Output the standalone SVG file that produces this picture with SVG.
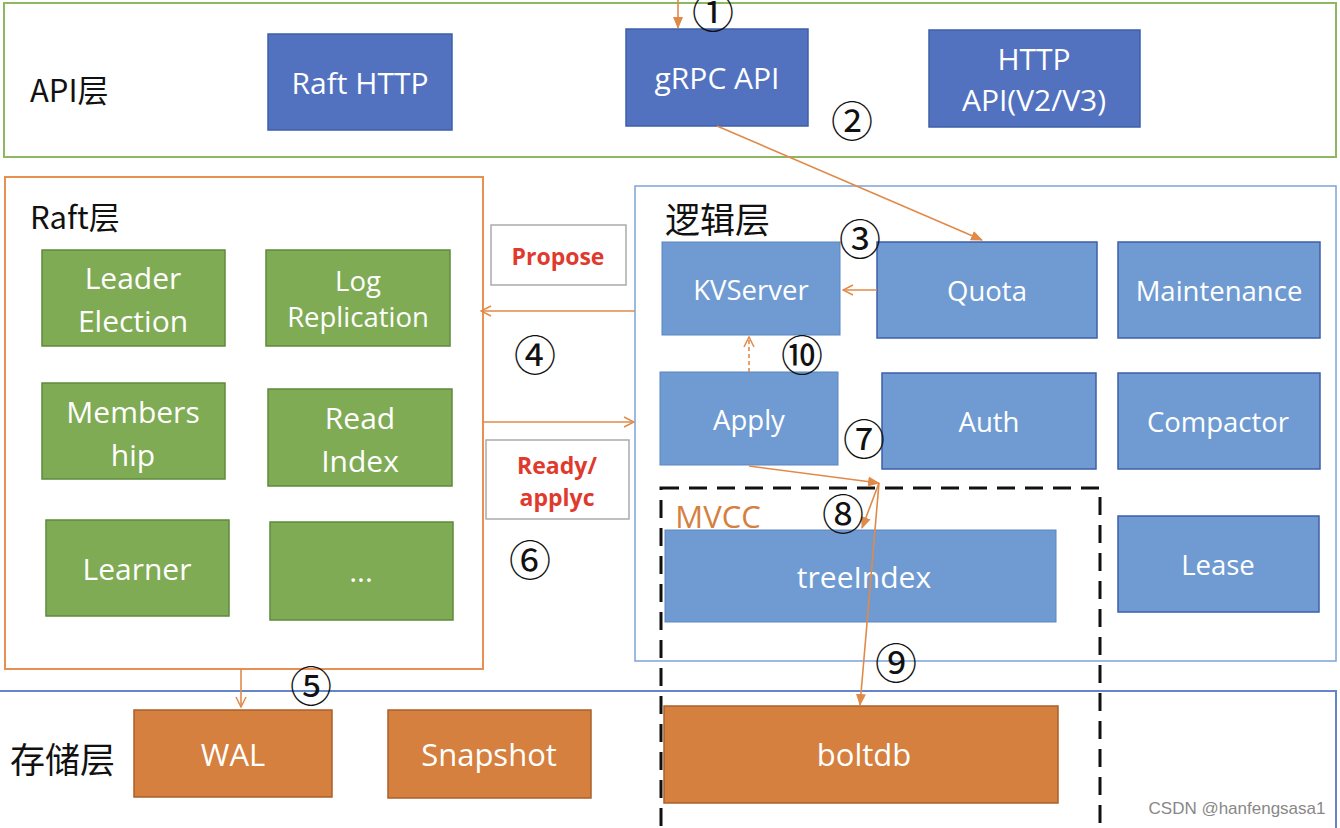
<svg xmlns="http://www.w3.org/2000/svg" width="1340" height="828" viewBox="0 0 1340 828">
<style>
text{font-family:"Open Sans","Noto Sans","Noto Sans CJK SC",sans-serif;text-anchor:middle;dominant-baseline:central}
.dk{fill:#5272C0;stroke:#3E5FA8;stroke-width:1.5}
.lb{fill:#6F9BD2;stroke:#5A86C0;stroke-width:1}
.gr{fill:#80AB55;stroke:#5F8A3C;stroke-width:1.5}
.or{fill:#D5803F;stroke:#A9602B;stroke-width:1.5}
.wt{fill:#fff;font-size:30px}
.sm{font-size:27.5px}
.st{font-size:31px}
.ttl{fill:#111;font-size:31px;text-anchor:start;font-family:"Noto Sans CJK SC","Open Sans",sans-serif}
.num{fill:#111;font-size:42px;font-family:"Noto Sans CJK SC",sans-serif}
.red{fill:#E03A2E;font-size:23px;font-weight:bold}
.ln{stroke:#E08A4A;stroke-width:1.6;fill:none}
</style>
<defs>
<marker id="op" viewBox="0 0 12 12" refX="11" refY="6" markerWidth="12" markerHeight="12" markerUnits="userSpaceOnUse" orient="auto"><path d="M1,1 L11,6 L1,11" fill="none" stroke="#E08A4A" stroke-width="1.5"/></marker>
<marker id="fl" viewBox="0 0 12 12" refX="11" refY="6" markerWidth="12" markerHeight="12" markerUnits="userSpaceOnUse" orient="auto"><path d="M0,1 L12,6 L0,11 Z" fill="#E08A4A"/></marker>
</defs>
<rect width="1340" height="828" fill="#fff"/>
<!-- layers -->
<g id="api-layer">
<rect x="4" y="3" width="1332" height="154" fill="none" stroke="#8CB862" stroke-width="2"/>
<text class="ttl" x="30" y="88">API层</text>
</g>
<g id="raft-layer">
<rect x="5" y="177" width="478" height="492" fill="none" stroke="#E89050" stroke-width="2"/>
<text class="ttl" x="30" y="215">Raft层</text>
</g>
<g id="logic-layer">
<rect x="635" y="186" width="701" height="475" fill="none" stroke="#7BA3D8" stroke-width="1.5"/>
<text class="ttl" x="665" y="217" style="font-size:35px">逻辑层</text>
</g>
<g id="storage-layer">
<rect x="-5" y="691" width="1341" height="150" fill="none" stroke="#6685C8" stroke-width="2"/>
<text class="ttl" x="10" y="757" style="font-size:35px">存储层</text>
</g>
<g id="mvcc">
<rect x="661" y="488" width="439" height="360" fill="none" stroke="#111" stroke-width="3" stroke-dasharray="18,10"/>
<text x="718" y="516" style="fill:#D5803F;font-size:31px">MVCC</text>
</g>
<!-- API nodes -->
<g id="raft-http"><rect class="dk" x="268" y="34" width="184" height="96"/><text class="wt" x="360" y="82">Raft HTTP</text></g>
<g id="grpc-api"><rect class="dk" x="626" y="29" width="182" height="97"/><text class="wt" x="717" y="77">gRPC API</text></g>
<g id="http-api"><rect class="dk" x="929" y="30" width="211" height="97"/><text class="wt" x="1034" y="58">HTTP</text><text class="wt" x="1034" y="99">API(V2/V3)</text></g>
<!-- Raft nodes -->
<g id="leader-election"><rect class="gr" x="42" y="250" width="183" height="96"/><text class="wt" x="133" y="277">Leader</text><text class="wt" x="133" y="320">Election</text></g>
<g id="log-replication"><rect class="gr" x="266" y="250" width="184" height="96"/><text class="wt sm" x="358" y="280">Log</text><text class="wt sm" x="358" y="316">Replication</text></g>
<g id="membership"><rect class="gr" x="42" y="383" width="183" height="96"/><text class="wt" x="133" y="411">Members</text><text class="wt" x="133" y="454">hip</text></g>
<g id="read-index"><rect class="gr" x="268" y="389" width="184" height="97"/><text class="wt" x="360" y="417">Read</text><text class="wt" x="360" y="460">Index</text></g>
<g id="learner"><rect class="gr" x="46" y="520" width="183" height="96"/><text class="wt" x="137" y="568">Learner</text></g>
<g id="more"><rect class="gr" x="270" y="522" width="183" height="98"/><text class="wt" x="361" y="570">...</text></g>
<!-- labels boxes -->
<g id="propose"><rect x="491" y="225" width="135" height="60" fill="#fff" stroke="#aaa" stroke-width="1.5"/><text class="red" x="558" y="256">Propose</text></g>
<g id="ready-applyc"><rect x="486" y="440" width="143" height="79" fill="#fff" stroke="#aaa" stroke-width="1.5"/><text class="red" x="557" y="465">Ready/</text><text class="red" x="557" y="497">applyc</text></g>
<!-- Logic nodes -->
<g id="kvserver"><rect class="lb" x="662" y="242" width="178" height="93"/><text class="wt sm" x="751" y="289">KVServer</text></g>
<g id="quota"><rect class="dk" style="fill:#6F9BD2" x="877" y="242" width="220" height="96"/><text class="wt sm" x="987" y="290">Quota</text></g>
<g id="maintenance"><rect class="dk" style="fill:#6F9BD2" x="1118" y="242" width="202" height="96"/><text class="wt sm" x="1219" y="290">Maintenance</text></g>
<g id="apply"><rect class="lb" x="660" y="372" width="178" height="93"/><text class="wt sm" x="749" y="419">Apply</text></g>
<g id="auth"><rect class="dk" style="fill:#6F9BD2" x="882" y="373" width="214" height="96"/><text class="wt sm" x="989" y="421">Auth</text></g>
<g id="compactor"><rect class="dk" style="fill:#6F9BD2" x="1118" y="373" width="202" height="96"/><text class="wt sm" x="1218" y="421">Compactor</text></g>
<g id="lease"><rect class="dk" style="fill:#6F9BD2" x="1118" y="516" width="201" height="96"/><text class="wt sm" x="1218" y="564">Lease</text></g>
<g id="treeindex"><rect class="lb" x="665" y="530" width="391" height="92"/><text class="wt" x="864" y="576">treeIndex</text></g>
<!-- Storage nodes -->
<g id="wal"><rect class="or" x="134" y="710" width="198" height="87"/><text class="wt st" x="233" y="754">WAL</text></g>
<g id="snapshot"><rect class="or" x="388" y="710" width="203" height="88"/><text class="wt st" x="489" y="754">Snapshot</text></g>
<g id="boltdb"><rect class="or" x="664" y="706" width="394" height="97"/><text class="wt st" x="864" y="754">boltdb</text></g>
<!-- connectors -->
<g id="connectors">
<line class="ln" x1="678" y1="0" x2="678" y2="28" marker-end="url(#fl)"/>
<line class="ln" x1="717" y1="126" x2="982" y2="240" marker-end="url(#fl)"/>
<line class="ln" x1="877" y1="290" x2="843" y2="290" marker-end="url(#op)"/>
<line class="ln" x1="635" y1="311" x2="481" y2="311" marker-end="url(#op)"/>
<line class="ln" x1="483" y1="422" x2="634" y2="422" marker-end="url(#op)"/>
<line class="ln" x1="749" y1="372" x2="749" y2="337" stroke-dasharray="4,3" marker-end="url(#op)"/>
<line class="ln" x1="749" y1="466" x2="879" y2="483" marker-end="url(#fl)"/>
<line class="ln" x1="879" y1="483" x2="862" y2="528" marker-end="url(#fl)"/>
<line class="ln" x1="879" y1="483" x2="860" y2="705" marker-end="url(#fl)"/>
<line class="ln" x1="241" y1="669" x2="241" y2="707" marker-end="url(#op)"/>
</g>
<!-- step numbers -->
<g id="steps">
<text class="num" x="713" y="9">①</text>
<text class="num" x="852" y="118">②</text>
<text class="num" x="860" y="236">③</text>
<text class="num" x="535" y="352">④</text>
<text class="num" x="311" y="683">⑤</text>
<text class="num" x="530" y="557">⑥</text>
<text class="num" x="864" y="436">⑦</text>
<text class="num" x="843" y="511">⑧</text>
<text class="num" x="896" y="660">⑨</text>
<text class="num" x="802" y="352">⑩</text>
</g>
<text x="1237" y="808" style="fill:#888;font-size:17px;font-family:'Liberation Sans',sans-serif">CSDN @hanfengsasa1</text>
</svg>
